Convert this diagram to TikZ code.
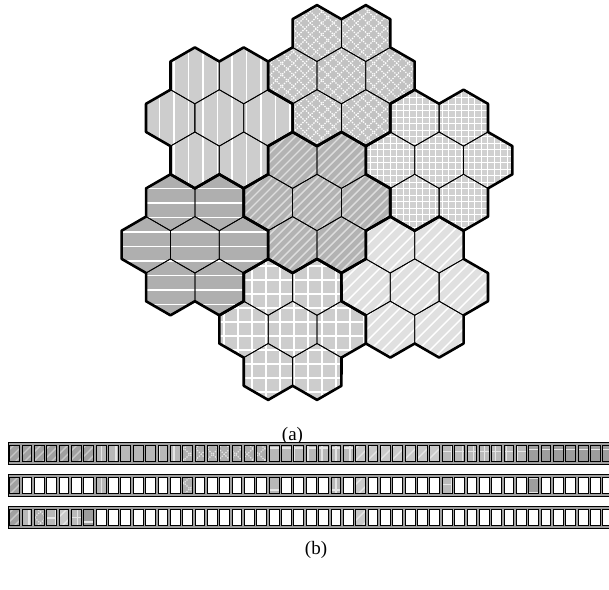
\documentclass[tikz,border=0pt]{standalone}
\usepackage{fontspec}
\setmainfont{Liberation Serif}
\usetikzlibrary{calc}

\definecolor{cA}{HTML}{B3B3B3}
\definecolor{lA}{HTML}{DEDEDE}
\definecolor{cB}{HTML}{CDCDCD}
\definecolor{cC}{HTML}{C2C2C2}
\definecolor{cD}{HTML}{CDCDCD}
\definecolor{cE}{HTML}{E0E0E0}
\definecolor{cF}{HTML}{D0D0D0}
\definecolor{cG}{HTML}{AFAFAF}
\definecolor{gapgray}{HTML}{A0A0A0}

\tikzset{
  hexthin/.style={draw=black, line width=0.8pt, line join=round},
  hexthick/.style={draw=black, line width=2.6pt, line join=round, line cap=round},
  lnA/.style={draw=lA, line width=1.4pt},
  lnW/.style={draw=white, line width=1.1pt},
  lnWf/.style={draw=white, line width=0.9pt},
  lnE/.style={draw=white, line width=1.4pt},
  lnC/.style={draw=white, line width=1.1pt, dash pattern=on 1.3pt off 1.3pt},
  cellb/.style={draw=black, line width=0.8pt},
  cellshade/.style={fill=black, fill opacity=0.1},
  framebox/.style={draw=black, line width=1.1pt, fill=gapgray},
  lbl/.style={font=\fontsize{19}{22}\selectfont, inner sep=0pt}
}

\def\R{28.2}
\def\W{48.843}
\def\Rb{56.4}
\def\Rc{74.610}

\newcommand\hexp{(30:\R) -- (90:\R) -- (150:\R) -- (210:\R) -- (270:\R) -- (330:\R) -- cycle}
\newcommand\clusteroutline{(-30:\Rb) \foreach \t in {0,60,...,300}{ -- (\t-10.8934:\Rc) -- (\t+10.8934:\Rc) -- (\t+30:\Rb)} -- cycle}

% pattern line families: #1 cx, #2 cy, #3 half size, #4 spacing, #5 style
\newcommand\pdiagU[5]{%
  \pgfmathsetmacro\myb{round((#1-(#2))/#4)*#4}%
  \pgfmathtruncatemacro\mynn{2*#3/#4+1}%
  \foreach \i in {-\mynn,...,\mynn}{%
    \pgfmathsetmacro\myc{\myb+\i*#4}%
    \draw[#5] ({#1-#3},{#1-#3-\myc}) -- ({#1+#3},{#1+#3-\myc});}}
\newcommand\pdiagD[5]{%
  \pgfmathsetmacro\myb{round((#1+(#2))/#4)*#4}%
  \pgfmathtruncatemacro\mynn{2*#3/#4+1}%
  \foreach \i in {-\mynn,...,\mynn}{%
    \pgfmathsetmacro\myc{\myb+\i*#4}%
    \draw[#5] ({#1-#3},{\myc-(#1)+#3}) -- ({#1+#3},{\myc-(#1)-#3});}}
\newcommand\pvert[5]{%
  \pgfmathsetmacro\myb{round((#1)/#4)*#4}%
  \pgfmathtruncatemacro\mynn{#3/#4+1}%
  \foreach \i in {-\mynn,...,\mynn}{%
    \pgfmathsetmacro\myc{\myb+\i*#4}%
    \draw[#5] (\myc,{#2-#3}) -- (\myc,{#2+#3});}}
\newcommand\phorz[5]{%
  \pgfmathsetmacro\myb{round((#2)/#4)*#4}%
  \pgfmathtruncatemacro\mynn{#3/#4+1}%
  \foreach \i in {-\mynn,...,\mynn}{%
    \pgfmathsetmacro\myc{\myb+\i*#4}%
    \draw[#5] ({#1-#3},\myc) -- ({#1+#3},\myc);}}

\newcommand\bgsq[4]{\fill[#4] ({#1-#3},{#2-#3}) rectangle ({#1+#3},{#2+#3});}

\newcommand\patA[3]{\bgsq{#1}{#2}{#3}{cA}\pdiagU{#1}{#2}{#3}{9}{lnA}}
\newcommand\patB[3]{\bgsq{#1}{#2}{#3}{cB}\pvert{#1}{#2}{#3}{14.5}{lnW}}
\newcommand\patC[3]{\bgsq{#1}{#2}{#3}{cC}\pdiagU{#1}{#2}{#3}{11.5}{lnC}\pdiagD{#1}{#2}{#3}{11.5}{lnC}}
\newcommand\patD[3]{\bgsq{#1}{#2}{#3}{cD}\pvert{#1}{#2}{#3}{14}{lnW}\phorz{#1}{#2}{#3}{14}{lnW}}
\newcommand\patE[3]{\bgsq{#1}{#2}{#3}{cE}\pdiagU{#1}{#2}{#3}{12}{lnE}}
\newcommand\patF[3]{\bgsq{#1}{#2}{#3}{cF}\pvert{#1}{#2}{#3}{6.5}{lnWf}\phorz{#1}{#2}{#3}{6.5}{lnWf}}
\newcommand\patFc[3]{\bgsq{#1}{#2}{#3}{cF}\pvert{#1}{#2}{#3}{11}{lnWf}\phorz{#1}{#2}{#3}{11}{lnWf}}
\newcommand\patG[3]{\bgsq{#1}{#2}{#3}{cG}\phorz{#1}{#2}{#3}{14.5}{lnW}}

% cluster fill: #1 cx, #2 cy (image, downward), #3 type
\newcommand\clusterfill[3]{%
  \begin{scope}
    \clip[shift={(#1,-#2)}] \clusteroutline;
    \csname pat#3\endcsname{#1}{-#2}{118}%
  \end{scope}}

% empty bar cell: #1 index, #2 row top y (image)
\newcommand\ecell[2]{%
  \pgfmathsetmacro\cxl{8.3+12.36*#1+1.3}%
  \pgfmathsetmacro\cxr{\cxl+9.8}%
  \pgfmathsetmacro\cyt{-(#2+3)}%
  \pgfmathsetmacro\cyb{-(#2+19.5)}%
  \draw[cellb, fill=white] (\cxl,\cyt) rectangle (\cxr,\cyb);}
% patterned bar cell: #1 index, #2 row top y (image), #3 type
\newcommand\pcell[3]{%
  \pgfmathsetmacro\cxl{8.3+12.36*#1+1.3}%
  \pgfmathsetmacro\cxr{\cxl+9.8}%
  \pgfmathsetmacro\cyt{-(#2+3)}%
  \pgfmathsetmacro\cyb{-(#2+19.5)}%
  \pgfmathsetmacro\ccx{(\cxl+\cxr)/2}%
  \pgfmathsetmacro\ccy{(\cyt+\cyb)/2}%
  \begin{scope}
    \clip (\cxl,\cyt) rectangle (\cxr,\cyb);
    \csname pat#3\endcsname{\ccx}{\ccy}{12}%
    \path[cellshade] (\cxl,\cyt) rectangle (\cxr,\cyb);
  \end{scope}
  \draw[cellb] (\cxl,\cyt) rectangle (\cxr,\cyb);}

\begin{document}
\begin{tikzpicture}[x=1pt,y=1pt]
\useasboundingbox (0,0) rectangle (609,-589);
\clip (0,0) rectangle (609,-589);

% ---------- (a) hexagon clusters ----------
\clusterfill{317}{202.5}{A}
\clusterfill{219.3}{117.9}{B}
\clusterfill{341.4}{75.6}{C}
\clusterfill{292.6}{329.4}{D}
\clusterfill{414.7}{287.1}{E}
\clusterfill{439.1}{160.2}{F}
\clusterfill{194.9}{244.8}{G}

\foreach \cx/\cy in {317/202.5, 219.3/117.9, 341.4/75.6, 292.6/329.4, 414.7/287.1, 439.1/160.2, 194.9/244.8}{
  \begin{scope}[shift={(\cx,-\cy)}]
    \draw[hexthin] \hexp;
    \foreach \t in {0,60,...,300}{\draw[hexthin, shift={(\t:\W)}] \hexp;}
  \end{scope}
}
\foreach \cx/\cy in {317/202.5, 219.3/117.9, 341.4/75.6, 292.6/329.4, 414.7/287.1, 439.1/160.2, 194.9/244.8}{
  \draw[hexthick, shift={(\cx,-\cy)}] \clusteroutline;
}

\node[lbl, anchor=base] (la) at (292.5,-440) {(a)};

% ---------- (b) bars ----------
\draw[framebox] (8.3,-442.3) rectangle (640,-464.3);
\draw[framebox] (8.3,-474.3) rectangle (640,-496.3);
\draw[framebox] (8.3,-506.3) rectangle (640,-528.3);

% row 1
\foreach \i/\t in {0/A,1/A,2/A,3/A,4/A,5/A,6/A,
  7/B,8/B,9/B,10/B,11/B,12/B,13/B,
  14/C,15/C,16/C,17/C,18/C,19/C,20/C,
  21/D,22/D,23/D,24/D,25/D,26/D,27/D,
  28/E,29/E,30/E,31/E,32/E,33/E,34/E,
  35/Fc,36/Fc,37/Fc,38/Fc,39/Fc,40/Fc,41/Fc,
  42/G,43/G,44/G,45/G,46/G,47/G,48/G}{\pcell{\i}{442.3}{\t}}
% row 2
\foreach \i in {1,2,3,4,5,6,8,9,10,11,12,13,15,16,17,18,19,20,22,23,24,25,27,29,30,31,32,33,34,36,37,38,39,40,41,43,44,45,46,47,48}{\ecell{\i}{474.3}}
\foreach \i/\t in {0/A, 7/B, 14/C, 21/D, 26/D, 28/E, 35/Fc, 42/G}{\pcell{\i}{474.3}{\t}}
% row 3
\foreach \i in {7,8,9,10,11,12,13,14,15,16,17,18,19,20,21,22,23,24,25,26,27,29,30,31,32,33,34,35,36,37,38,39,40,41,42,43,44,45,46,47,48}{\ecell{\i}{506.3}}
\foreach \i/\t in {0/A, 1/B, 2/C, 3/D, 4/E, 5/Fc, 6/G, 28/E}{\pcell{\i}{506.3}{\t}}

\node[lbl, anchor=base] (lb) at (316,-554) {(b)};
\end{tikzpicture}
\end{document}
